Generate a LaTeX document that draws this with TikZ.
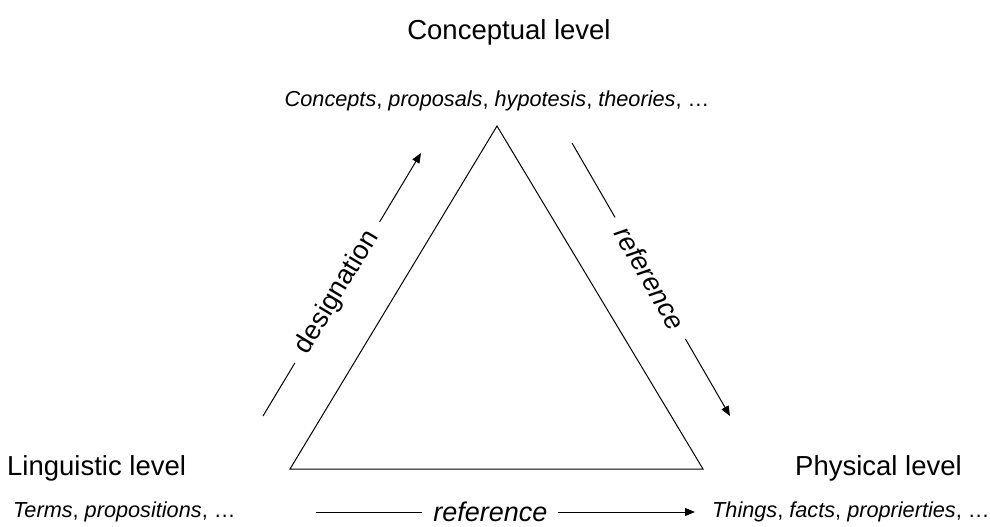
\documentclass[tikz,border=0pt]{standalone}
\usepackage{fontspec}
\setmainfont{Liberation Sans}
\usetikzlibrary{arrows.meta}
\begin{document}
\begin{tikzpicture}[x=1pt,y=-1pt,
  title/.style={inner sep=0pt,font=\fontsize{27.5}{30}\selectfont},
  items/.style={inner sep=0pt,font=\fontsize{21.7}{26}\selectfont},
  rel/.style={font=\fontsize{27}{30}\selectfont\itshape,fill=white,inner xsep=13pt,inner ysep=2pt},
  edge/.style={line width=1pt},
  relarrow/.style={line width=1pt,-{Triangle[length=10pt,width=8pt]}}]
\useasboundingbox (0,0) rectangle (990,527);
% triangle
\coordinate (apex) at (497,126);
\coordinate (bl) at (290,469);
\coordinate (br) at (703,469);
\draw[edge,line join=miter] (apex) -- (br) -- (bl) -- cycle;
% level titles
\node[title,anchor=base] (concl) at (509,40) {Conceptual level};
\node[items,anchor=base] (conci) at (497,106) {\textit{Concepts}, \textit{proposals}, \textit{hypotesis}, \textit{theories}, …};
\node[title,anchor=base west] (lingl) at (7,475) {Linguistic level};
\node[items,anchor=base west] (lingi) at (13,517) {\textit{Terms}, \textit{propositions}, …};
\node[title,anchor=base west] (physl) at (795,475) {Physical level};
\node[items,anchor=base west] (physi) at (712,517) {\textit{Things}, \textit{facts}, \textit{proprierties}, …};
% relation arrows
\coordinate (d1) at (263,416);
\coordinate (d2) at (421,153);
\draw[relarrow] (d1) -- node[rel,sloped,pos=0.47,font=\fontsize{27}{30}\selectfont\upshape] (desig) {designation} (d2);
\coordinate (r1) at (572,143);
\coordinate (r2) at (730,416);
\draw[relarrow] (r1) -- node[rel,sloped,pos=0.495] (ref1) {reference} (r2);
\coordinate (b1) at (316,512);
\coordinate (b2) at (695,512);
\draw[relarrow] (b1) -- node[rel,pos=0.46,inner xsep=11pt] (ref2) {reference} (b2);
\end{tikzpicture}
\end{document}
